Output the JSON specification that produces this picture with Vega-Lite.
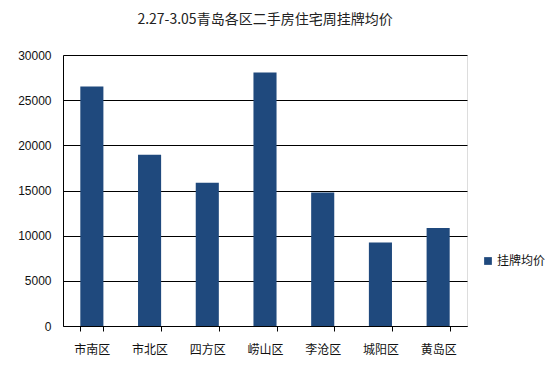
{
  "$schema": "https://vega.github.io/schema/vega-lite/v6.json",
  "width": 404,
  "height": 271,
  "autosize": "none",
  "padding": {"left": 63, "top": 55, "right": 93, "bottom": 50},
  "background": "white",
  "title": {
    "text": "2.27-3.05青岛各区二手房住宅周挂牌均价",
    "font": "Noto Sans CJK SC",
    "fontSize": 14,
    "fontWeight": "normal",
    "color": "#222222",
    "anchor": "middle",
    "offset": 22
  },
  "data": {
    "values": [
      {"区": "市南区", "挂牌均价": 26500},
      {"区": "市北区", "挂牌均价": 18950},
      {"区": "四方区", "挂牌均价": 15850},
      {"区": "崂山区", "挂牌均价": 28050},
      {"区": "李沧区", "挂牌均价": 14780},
      {"区": "城阳区", "挂牌均价": 9250},
      {"区": "黄岛区", "挂牌均价": 10850}
    ]
  },
  "mark": {"type": "bar"},
  "encoding": {
    "x": {
      "field": "区",
      "type": "nominal",
      "sort": null,
      "scale": {"paddingInner": 0.6, "paddingOuter": 0.3},
      "axis": {
        "title": null,
        "labelAngle": 0,
        "labelFont": "Noto Sans CJK SC",
        "labelFontSize": 12,
        "labelColor": "#111111",
        "labelPadding": 13,
        "domainColor": "#000000",
        "tickColor": "#000000",
        "tickBand": "extent",
        "tickSize": 5,
        "grid": false
      }
    },
    "y": {
      "field": "挂牌均价",
      "type": "quantitative",
      "scale": {"domain": [0, 30000], "nice": false},
      "axis": {
        "title": null,
        "values": [0, 5000, 10000, 15000, 20000, 25000, 30000],
        "format": "d",
        "labelFont": "Liberation Sans",
        "labelFontSize": 12,
        "labelColor": "#111111",
        "labelPadding": 12,
        "ticks": false,
        "domainColor": "#000000",
        "grid": true,
        "gridColor": "#000000",
        "gridOpacity": 1,
        "gridWidth": 1
      }
    },
    "color": {
      "datum": "挂牌均价",
      "scale": {"range": ["#1F497D"]},
      "legend": {
        "title": null,
        "orient": "none",
        "legendX": 419,
        "legendY": 200,
        "symbolType": "square",
        "symbolSize": 60,
        "labelFont": "Noto Sans CJK SC",
        "labelFontSize": 12,
        "labelColor": "#111111",
        "labelOffset": 3
      }
    }
  }
}
